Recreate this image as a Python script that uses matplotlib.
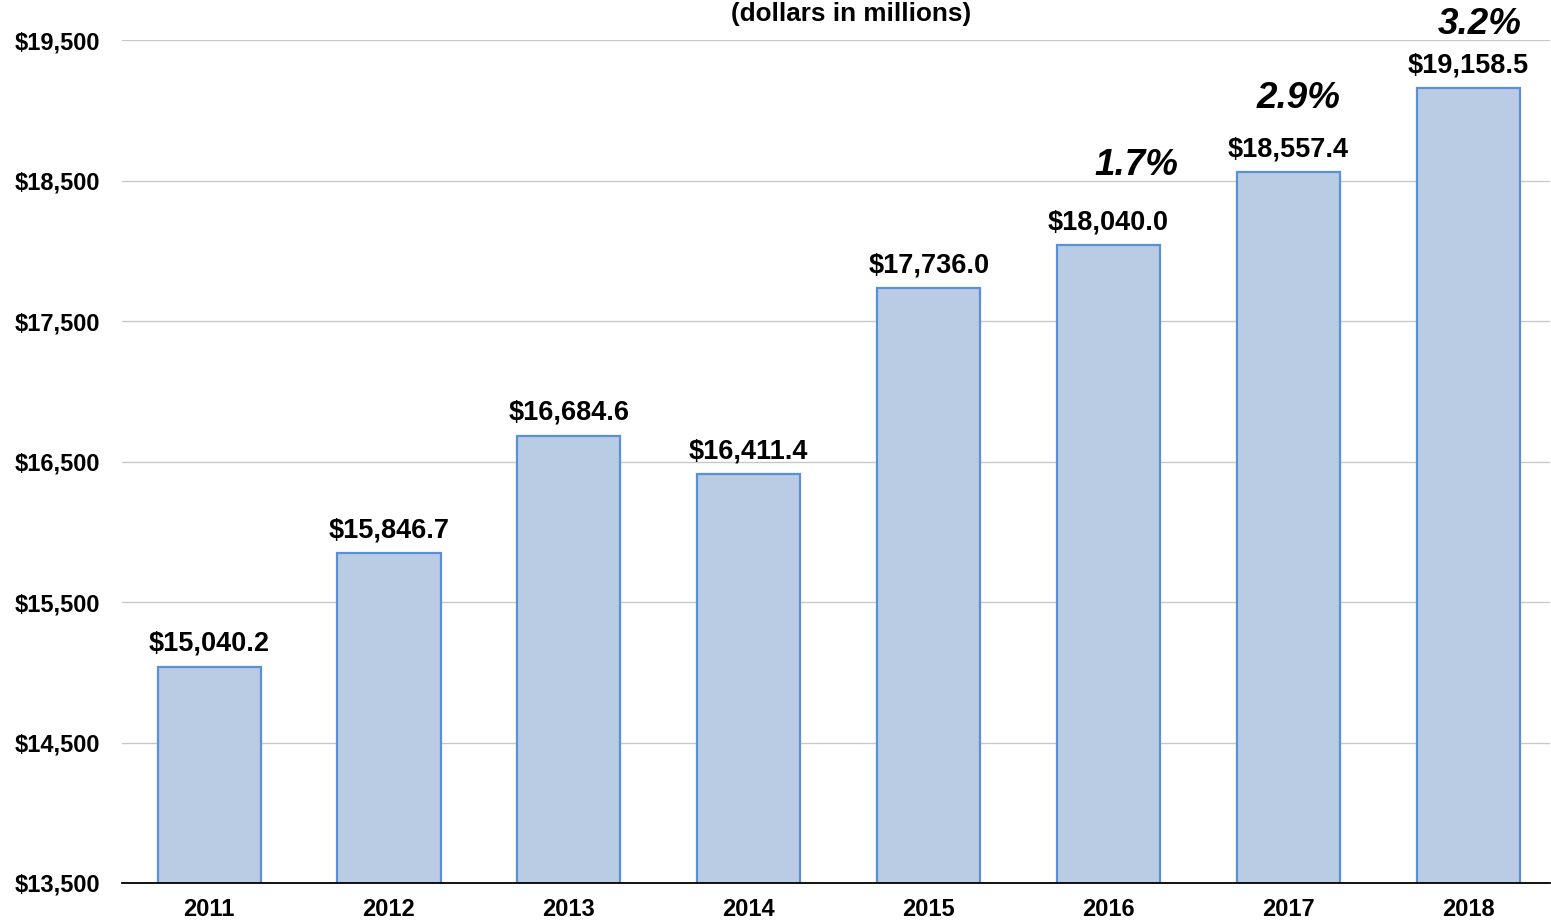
import numpy as np
import matplotlib
matplotlib.use("Agg")
import matplotlib.pyplot as plt
from matplotlib.ticker import FuncFormatter

years = ["2011", "2012", "2013", "2014", "2015", "2016", "2017", "2018"]
values = [15040.2, 15846.7, 16684.6, 16411.4, 17736.0, 18040.0, 18557.4, 19158.5]
growth_years = ["2016", "2017", "2018"]
growth_labels = ["1.7%", "2.9%", "3.2%"]
yticks = [13500, 14500, 15500, 16500, 17500, 18500, 19500]

BAR_FACE, BAR_EDGE = "#B9CCE4", "#5B8FD8"

plt.rcParams.update({"font.family": ["Liberation Sans", "DejaVu Sans"], "font.weight": "bold"})

fig = plt.figure(figsize=(15.51, 9.22), dpi=100)
ax = fig.add_axes([0.0787, 0.0423, 0.9207, 0.9143])

x = np.arange(len(years))
ax.bar(x, values, 0.573, bottom=0, color=BAR_FACE, edgecolor=BAR_EDGE, linewidth=1.6, zorder=3)
ax.set_xlim(-0.4836, 7.454)
ax.set_ylim(13500, 19500)
ax.set_yticks(yticks)
ax.yaxis.set_major_formatter(FuncFormatter(lambda v, _: f"${v:,.0f}"))
ax.set_xticks(x)
ax.set_xticklabels(years)
ax.tick_params(axis="y", length=0, pad=16, labelsize=17)
ax.tick_params(axis="x", length=0, pad=11, labelsize=17)
ax.grid(axis="y", color="#C8C8C8", lw=1, zorder=0)
for s in ["top", "right", "left"]:
    ax.spines[s].set_visible(False)
ax.spines["bottom"].set_color("black")
ax.spines["bottom"].set_linewidth(1.3)
ax.spines["bottom"].set_zorder(4)

for xi, v in zip(x, values):
    ax.annotate(f"${v:,.1f}", xy=(xi, v), xytext=(0, 7), textcoords="offset points",
                ha="center", va="bottom", fontsize=19.5, fontweight="bold")

# growth labels sit above the last three bars, nudged right
offsets = [(20, 57), (7, 53), (8, 46)]
for yr, lab, off in zip(growth_years, growth_labels, offsets):
    i = years.index(yr)
    ax.annotate(lab, xy=(i, values[i]), xytext=off, textcoords="offset points",
                ha="center", va="center", fontsize=26.5, fontweight="bold", fontstyle="italic",
                annotation_clip=False)

fig.text(0.5487, 0.985, "(dollars in millions)", ha="center", va="center", fontsize=18.8, fontweight="bold")

fig.savefig("out.png", dpi=100)
